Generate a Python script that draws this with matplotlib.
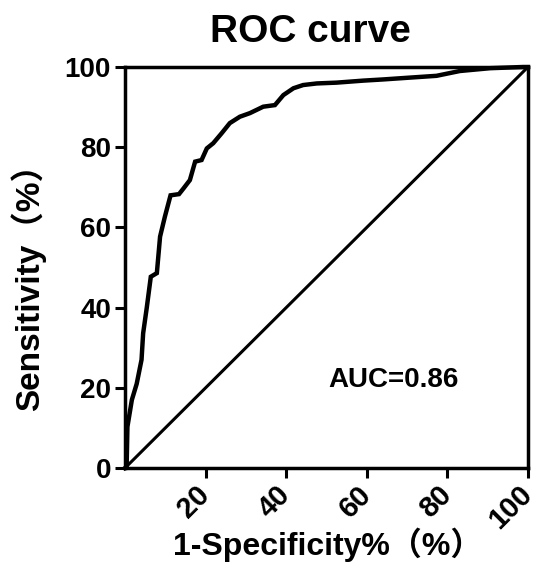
import matplotlib
matplotlib.use("Agg")
import matplotlib.pyplot as plt

plt.rcParams['font.family'] = ['Liberation Sans', 'Noto Sans CJK SC', 'DejaVu Sans']
plt.rcParams['font.weight'] = 'bold'

# ROC curve points (1-specificity %, sensitivity %)
fpr = [0.0, 0.4, 0.6, 1.7, 2.9, 4.1, 4.5, 5.4, 6.4, 7.9, 8.7, 9.9, 11.3, 13.4,
       14.5, 16.1, 17.4, 19.0, 20.3, 21.9, 24.0, 26.0, 28.5, 31.0, 34.3, 37.2,
       39.3, 41.8, 44.2, 47.6, 52.5, 59.1, 64.1, 69.9, 77.3, 83.1, 90.6, 98.8, 100.0]
tpr = [0.0, 0.3, 10.3, 17.0, 21.0, 27.0, 33.6, 40.0, 47.7, 48.6, 57.7, 62.7, 68.0, 68.3,
       69.7, 71.8, 76.4, 76.8, 79.7, 81.0, 83.5, 86.0, 87.6, 88.5, 90.1, 90.5,
       93.0, 94.7, 95.5, 95.9, 96.1, 96.6, 96.9, 97.3, 97.8, 99.0, 99.7, 100.0, 100.0]
ref_line = [0, 100]
xticks = [20, 40, 60, 80, 100]
yticks = [0, 20, 40, 60, 80, 100]
auc_text = "AUC=0.86"

fig = plt.figure(figsize=(5.37, 5.63), dpi=100)
ax = fig.add_axes([0.2328, 0.1687, 0.7504, 0.7123])

ax.plot(fpr, tpr, color='black', lw=3.2, solid_joinstyle='miter', clip_on=False, zorder=3)
ax.plot(ref_line, ref_line, color='black', lw=2.2, clip_on=False, zorder=3)

ax.set_xlim(0, 100)
ax.set_ylim(0, 100)
ax.set_xticks(xticks)
ax.set_yticks(yticks)
ax.set_xticklabels([str(v) for v in xticks], rotation=45, ha='right', va='center',
                   rotation_mode='anchor', fontsize=21, fontweight='bold')
ax.set_yticklabels([str(v) for v in yticks], fontsize=20, fontweight='bold')
ax.tick_params(axis='both', direction='out', length=7, width=2.2, pad=3)
ax.tick_params(axis='x', pad=9)
for s in ax.spines.values():
    s.set_linewidth(2.5)

fig.text(310 / 537, 1 - 42 / 563, "ROC curve", fontsize=28, fontweight='bold',
         ha='center', va='baseline')
fig.text(173 / 537, 1 - 555 / 563, "1-Specificity%（%）", fontsize=23, fontweight='bold',
         ha='left', va='baseline')
fig.text(39 / 537, 1 - 411 / 563, "Sensitivity（%）", fontsize=24, fontweight='bold',
         ha='left', va='baseline', rotation=90, rotation_mode='anchor')
ax.text(50.5, 22, auc_text, fontsize=20, fontweight='bold', ha='left', va='center')

fig.savefig("out.png", dpi=100)
